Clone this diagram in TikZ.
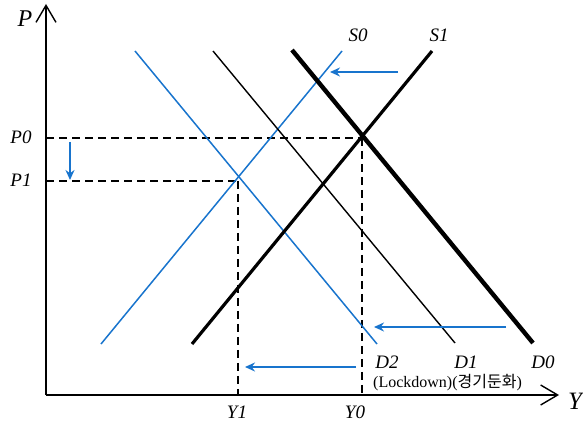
\documentclass[tikz,border=0pt]{standalone}
\usepackage{fontspec}
\setmainfont{Liberation Serif}
\newfontfamily\krfont{Noto Sans CJK KR}
\usetikzlibrary{arrows.meta,calc}
\definecolor{lblue}{RGB}{24,116,205}
\begin{document}
\begin{tikzpicture}[x=1pt,y=-1pt,
  axis/.style={line width=1.6pt,-{Straight Barb[length=17pt,width=20pt,line width=1.4pt]}},
  thincurve/.style={line width=1.4pt},
  medcurve/.style={line width=3.2pt},
  thickcurve/.style={line width=4.4pt},
  bluecurve/.style={line width=1.5pt,draw=lblue},
  shiftarrow/.style={line width=1.6pt,draw=lblue,-{Stealth[length=10pt,width=9pt]}},
  guide/.style={dash pattern=on 8pt off 5pt,line width=1.8pt},
  lbl/.style={font=\fontsize{19}{21}\selectfont\itshape,inner sep=0pt}]
\useasboundingbox (0,0) rectangle (583,422);

% axes
\coordinate (O) at (46,395);
\coordinate (ytop) at (46,4);
\coordinate (xend) at (559,395);
\draw[axis] (O) -- (ytop);
\draw[axis] (O) -- (xend);

% curve end points
\coordinate (d0a) at (292,50);  \coordinate (d0b) at (533,343);
\coordinate (d1a) at (213,51);  \coordinate (d1b) at (455,343);
\coordinate (d2a) at (135,51);  \coordinate (d2b) at (377,344);
\coordinate (s0a) at (101,344); \coordinate (s0b) at (342,51);
\coordinate (s1a) at (192,344); \coordinate (s1b) at (432,51);

% equilibrium points (as marked by the guides)
\coordinate (E0) at (361.9,137.9);
\coordinate (E1) at (237.9,180.9);
\coordinate (p0) at (O |- E0);
\coordinate (p1) at (O |- E1);
\coordinate (y0) at (E0 |- O);
\coordinate (y1) at (E1 |- O);

% guides
\draw[guide] (p0) -- (E0);
\draw[guide] (E0) -- (y0);
\draw[guide] (p1) -- (E1);
\draw[guide] (E1) -- (y1);

% curves
\draw[bluecurve] (d2a) -- (d2b);
\draw[bluecurve] (s0a) -- (s0b);
\draw[thincurve] (d1a) -- (d1b);
\draw[medcurve] (s1a) -- (s1b);
\draw[thickcurve] (d0a) -- (d0b);

% shift arrows
\coordinate (a1s) at (398,72);  \coordinate (a1e) at (330,72);
\coordinate (a2s) at (506,327); \coordinate (a2e) at (374,327);
\coordinate (a3s) at (356,367); \coordinate (a3e) at (245,367);
\coordinate (a4s) at (70,142);  \coordinate (a4e) at (70,180);
\draw[shiftarrow] (a1s) -- (a1e);
\draw[shiftarrow] (a2s) -- (a2e);
\draw[shiftarrow] (a3s) -- (a3e);
\draw[shiftarrow] (a4s) -- (a4e);

% labels
\node[lbl,font=\fontsize{24}{26}\selectfont\itshape] (lP) at (25,19) {P};
\node[lbl,font=\fontsize{25}{27}\selectfont\itshape] (lY) at (575,401) {Y};
\node[lbl] (lP0) at (21,137) {P0};
\node[lbl] (lP1) at (21,180) {P1};
\node[lbl] (lS0) at (358,35) {S0};
\node[lbl] (lS1) at (439,35) {S1};
\node[lbl] (lD2) at (387,362) {D2};
\node[lbl] (lD1) at (466,362) {D1};
\node[lbl] (lD0) at (543,362) {D0};
\node[lbl] (lY1) at (237,412) {Y1};
\node[lbl] (lY0) at (355,412) {Y0};
\node[inner sep=0pt,anchor=west,font=\fontsize{16}{18}\selectfont] (note) at (373,383) {(Lockdown)({\krfont 경기둔화})};
\end{tikzpicture}
\end{document}
